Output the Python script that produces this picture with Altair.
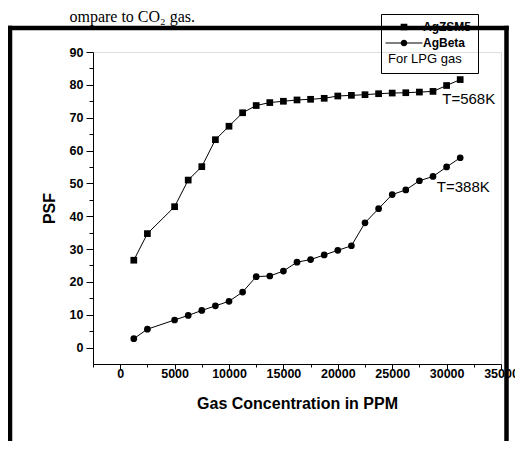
import altair as alt
import pandas as pd

ppm = [1250, 2500, 5000, 6250, 7500, 8750, 10000, 11250, 12500, 13750, 15000, 16250,
       17500, 18750, 20000, 21250, 22500, 23750, 25000, 26250, 27500, 28750, 30000, 31250]
agzsm5 = [26.6, 34.7, 42.9, 51.0, 55.1, 63.3, 67.4, 71.5, 73.7, 74.6, 75.0, 75.4,
          75.6, 75.9, 76.6, 76.8, 77.0, 77.3, 77.5, 77.6, 77.8, 78.0, 79.8, 81.6]
agbeta = [2.7, 5.6, 8.4, 9.8, 11.3, 12.7, 14.1, 16.9, 21.6, 21.8, 23.3, 26.0,
          26.8, 28.2, 29.6, 31.0, 38.0, 42.3, 46.6, 48.0, 50.8, 52.1, 55.0, 57.8]
series = ["AgZSM5", "AgBeta"]

ann_text = ["T=568K", "T=388K"]
ann_x = [29600, 29100]
ann_y = [75.6, 48.8]

x_major = list(range(0, 35001, 5000))
x_minor = list(range(-2500, 35000, 5000))
y_major = list(range(0, 91, 10))
y_minor = list(range(5, 90, 10))

df = pd.concat([
    pd.DataFrame({"series": series[0], "ppm": ppm, "psf": agzsm5}),
    pd.DataFrame({"series": series[1], "ppm": ppm, "psf": agbeta}),
])
ann = pd.DataFrame({"t": ann_text, "x": ann_x, "y": ann_y})

FONT = "Liberation Sans"

xs = alt.Scale(domain=[-2500, 35000], nice=False, zero=False)
ys = alt.Scale(domain=[-5, 90], nice=False, zero=False)

x_axis = alt.Axis(values=x_major, format="d", orient="bottom", tickSize=5,
                  grid=False, domainColor="black", tickColor="black",
                  labelFont=FONT, labelFontWeight="bold", labelFontSize=12.5,
                  labelColor="black", labelPadding=-2, labelFlush=False,
                  titleFont=FONT, titleFontWeight="bold", titleFontSize=16,
                  titleColor="black", titlePadding=16)
y_axis = alt.Axis(values=y_major, orient="left", tickSize=7,
                  grid=False, domainColor="black", tickColor="black",
                  labelFont=FONT, labelFontWeight="bold", labelFontSize=12.5,
                  labelColor="black", labelPadding=3,
                  titleFont=FONT, titleFontWeight="bold", titleFontSize=16,
                  titleColor="black", titlePadding=12)

base = alt.Chart(df)

lines = base.mark_line(color="black", strokeWidth=1).encode(
    x=alt.X("ppm:Q", scale=xs, title="Gas Concentration in PPM", axis=x_axis),
    y=alt.Y("psf:Q", scale=ys, title="PSF", axis=y_axis),
    detail="series:N")

minor = base.mark_point(opacity=0).encode(
    x=alt.X("ppm:Q", scale=xs, title=None,
            axis=alt.Axis(values=x_minor, orient="bottom", labels=False, domain=False,
                          grid=False, tickSize=3, tickColor="black")),
    y=alt.Y("psf:Q", scale=ys, title=None,
            axis=alt.Axis(values=y_minor, orient="left", labels=False, domain=False,
                          grid=False, tickSize=4, tickColor="black")),
)

points = base.mark_point(filled=True, color="black", opacity=1, size=45).encode(
    x=alt.X("ppm:Q", scale=xs, axis=None),
    y=alt.Y("psf:Q", scale=ys, axis=None),
    shape=alt.Shape("series:N", scale=alt.Scale(domain=series, range=["square", "circle"]),
                    legend=None),
)

sq = "M-1,-1H1V1H-1Z M-5.5,-0.15H5.5V0.15H-5.5Z"
ci = "M1,0A1,1 0 1,1 -1,0A1,1 0 1,1 1,0Z M-5.5,-0.15H5.5V0.15H-5.5Z"

legend_layer = base.mark_point(filled=True, color="black", opacity=1).encode(
    x=alt.value(-4000), y=alt.value(-4000),
    shape=alt.Shape("series:N",
                    scale=alt.Scale(domain=series, range=[sq, ci]),
                    legend=alt.Legend(orient="none", legendX=288, legendY=-38,
                                      title="For LPG gas", titleOrient="bottom",
                                      titleAnchor="start", titleFont=FONT,
                                      titleFontWeight="normal", titleFontSize=13,
                                      titleColor="black", titlePadding=4,
                                      labelFont=FONT, labelFontWeight="bold",
                                      labelFontSize=12, labelColor="black",
                                      labelOffset=13, symbolOffset=10, symbolSize=45,
                                      symbolFillColor="black", symbolStrokeWidth=0,
                                      strokeColor="black",
                                      padding=7, rowPadding=4, cornerRadius=0)),
)

labels = alt.Chart(ann).mark_text(align="left", baseline="middle", font=FONT,
                                  fontSize=15, color="black").encode(
    x=alt.X("x:Q", scale=xs, axis=None), y=alt.Y("y:Q", scale=ys, axis=None), text="t:N")

one = pd.DataFrame({"a": [0]})
fw = 4.5
frame_top = alt.Chart(one).mark_rule(color="black", strokeWidth=fw).encode(
    x=alt.value(-85.3), x2=alt.value(415.7), y=alt.value(-24))
frame_left = alt.Chart(one).mark_rule(color="black", strokeWidth=fw).encode(
    x=alt.value(-83), y=alt.value(-26.2), y2=alt.value(420))
frame_right = alt.Chart(one).mark_rule(color="black", strokeWidth=fw).encode(
    x=alt.value(413.5), y=alt.value(-26.2), y2=alt.value(420))

caption = alt.Chart(one).mark_text(align="right", baseline="top",
                                   font="Liberation Serif", fontSize=16,
                                   color="black").encode(
    x=alt.value(102), y=alt.value(-43), text=alt.value("ompare to CO\u2082 gas."))

chart = alt.layer(lines, minor, points, legend_layer, labels,
                  frame_top, frame_left, frame_right, caption).resolve_axis(
    x="independent", y="independent").resolve_scale(shape="independent").properties(
    width=408, height=312,
    autosize=alt.AutoSizeParams(type="none"),
    padding={"left": 85, "top": 44, "right": 14, "bottom": 77},
).configure_view(stroke=None).configure(background="white")

chart.save("out.html", embed_options={"renderer": "svg", "actions": False})
